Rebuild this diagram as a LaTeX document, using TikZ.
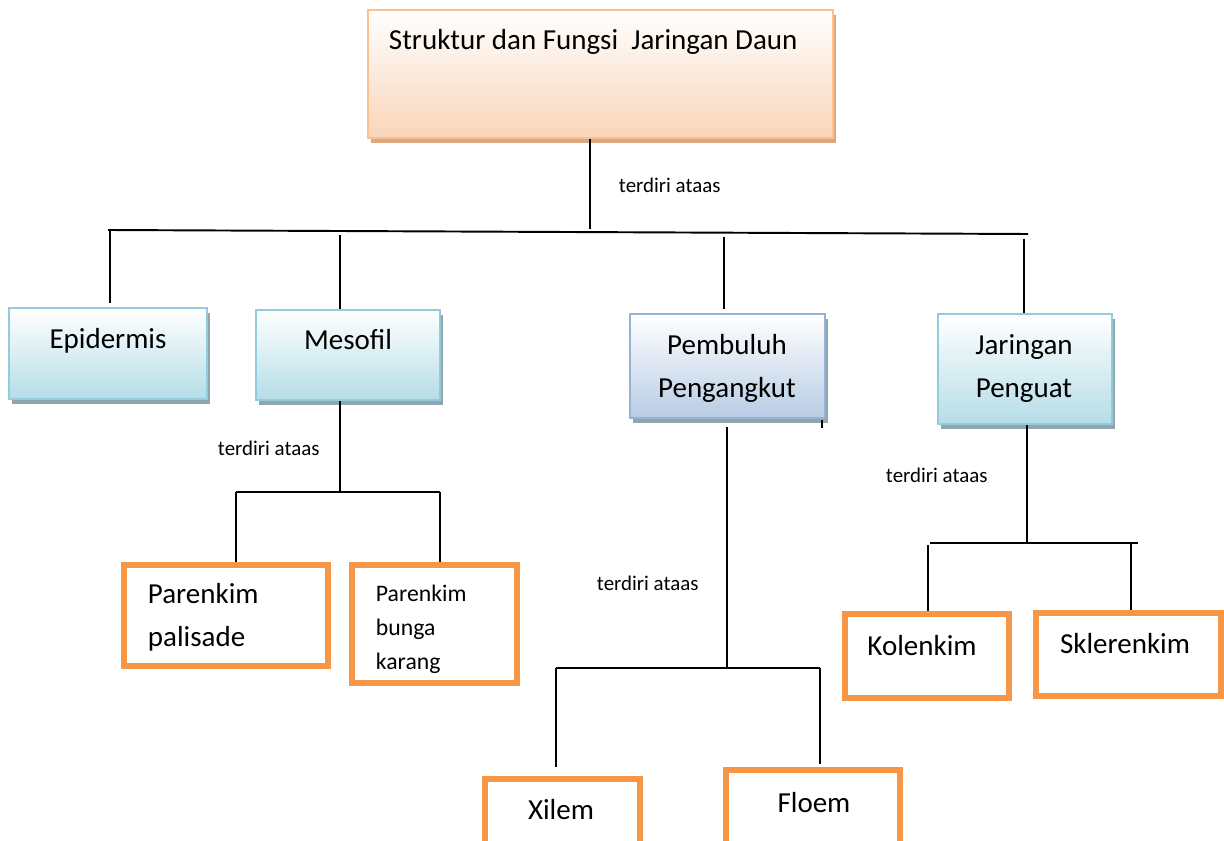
\documentclass[tikz,border=0pt]{standalone}
\usepackage{fontspec}
\setmainfont{Carlito}
\usetikzlibrary{fit,shadows}

\definecolor{peach}{HTML}{F9D5B9}
\definecolor{peachline}{HTML}{FAC090}
\definecolor{peachshadow}{HTML}{D9A882}
\definecolor{aqua}{HTML}{B5DDE7}
\definecolor{aqualine}{HTML}{93CDDD}
\definecolor{steel}{HTML}{B8CCE4}
\definecolor{steelline}{HTML}{95B3D7}
\definecolor{slate}{HTML}{90A6AE}
\definecolor{tangerine}{HTML}{F79646}

\begin{document}
\begin{tikzpicture}[x=0.02cm, y=-0.02cm, line width=1.1pt,
  every node/.style={font=\fontsize{16.5}{24}\selectfont},
  headbox/.style={draw=peachline, line width=1.2pt, inner sep=0pt,
    top color=white, bottom color=peach,
    drop shadow={shadow xshift=1.5pt, shadow yshift=-3pt, fill=peachshadow, opacity=1}},
  aquabox/.style={draw=aqualine, line width=1.2pt, inner sep=0pt,
    top color=white, bottom color=aqua,
    drop shadow={shadow xshift=1.5pt, shadow yshift=-3pt, fill=slate, opacity=1}},
  steelbox/.style={aquabox, draw=steelline, bottom color=steel},
  leafbox/.style={draw=tangerine, line width=3.4pt, inner sep=0pt, fill=white},
  lefttext/.style={anchor=base west, inner sep=0pt},
  note/.style={lefttext, font=\fontsize{11.9}{14}\selectfont}]
\path[use as bounding box, clip] (0,0) rectangle (1224,841);

% boxes
\node (daun) [headbox, fit={(368,10) (833,138)}] {};
\node (epi) [aquabox, fit={(9,308) (207,399)}] {};
\node (meso) [aquabox, fit={(256,310) (440,400)}] {};
\node (pemb) [steelbox, fit={(630,314) (825,418)}] {};
\node (jar) [aquabox, fit={(938,314) (1112,424)}] {};
\node (pal) [leafbox, fit={(124,565) (328,666)}] {};
\node (bk) [leafbox, fit={(352,565) (517,683)}] {};
\node (xil) [leafbox, fit={(485,779) (640,880)}] {};
\node (flo) [leafbox, fit={(726,770) (900,880)}] {};
\node (kol) [leafbox, fit={(845,614) (1009,698)}] {};
\node (skl) [leafbox, fit={(1036,613) (1221,696)}] {};

% texts
\node (daun-t) [lefttext] at (388,50) {Struktur dan Fungsi\ \ Jaringan Daun};
\node (epi-t) [anchor=base] at (108,348) {Epidermis};
\node (meso-t) [anchor=base] at (348,349) {Mesofil};
\node (pemb-t) [anchor=base, align=center] at (727,397) {Pembuluh\\Pengangkut};
\node (jar-t) [anchor=base, align=center] at (1024,397) {Jaringan\\Penguat};
\node (pal-t) [lefttext, align=left] at (147,646) {Parenkim\\palisade};
\node (bk-t) [lefttext, align=left, font=\fontsize{13.5}{19.3}\selectfont] at (375,669) {Parenkim\\bunga\\karang};
\node (xil-t) [anchor=base] at (561,819) {Xilem};
\node (flo-t) [anchor=base] at (814,812) {Floem};
\node (kol-t) [anchor=base] at (922,655) {Kolenkim};
\node (skl-t) [anchor=base] at (1125,653) {Sklerenkim};

\node (n1) [note] at (618,193) {terdiri ataas};
\node (n2) [note] at (217,455) {terdiri ataas};
\node (n3) [note] at (596,590) {terdiri ataas};
\node (n4) [note] at (885,482) {terdiri ataas};

% first level
\coordinate (hub) at (590,229);
\coordinate (barL) at (108,230);
\coordinate (barR) at (1028,234);
\coordinate (e1) at (110,231);
\coordinate (m1) at (340,235);
\coordinate (p1) at (724,237);
\coordinate (j1) at (1024,239);
\draw (daun.south -| hub) to (hub);
\draw (barL) to (barR);
\draw[shorten >=2.3pt] (e1) to (e1 |- epi.north);
\draw (m1) to (m1 |- meso.north);
\draw[shorten >=2.3pt] (p1) to (p1 |- pemb.north);
\draw (j1) to (j1 |- jar.north);

% mesofil
\coordinate (mhub) at (340,492);
\coordinate (mL) at (236,492);
\coordinate (mR) at (440,492);
\draw (meso.south -| mhub) to (mhub);
\draw (mL) to (mR);
\draw (mL) to (mL |- pal.north);
\draw (mR) to (mR |- bk.north);

% pembuluh pengangkut
\coordinate (ptop) at (727,427);
\coordinate (phub) at (727,668);
\coordinate (pL) at (556,668);
\coordinate (pR) at (820,668);
\coordinate (tick1) at (822,420);
\coordinate (tick2) at (822,428);
\draw (ptop) to (phub);
\draw (tick1) to (tick2);
\draw (pL) to (pR);
\draw[shorten >=5pt] (pL) to (pL |- xil.north);
\draw[shorten >=1.7pt] (pR) to (pR |- flo.north);

% jaringan penguat
\coordinate (jhub) at (1027,543);
\coordinate (jL) at (930,543);
\coordinate (jR) at (1138,543);
\coordinate (k1) at (928,545);
\coordinate (s1) at (1131,542);
\draw (jar.south -| jhub) to (jhub);
\draw (jL) to (jR);
\draw (k1) to (k1 |- kol.north);
\draw (s1) to (s1 |- skl.north);
\end{tikzpicture}
\end{document}
